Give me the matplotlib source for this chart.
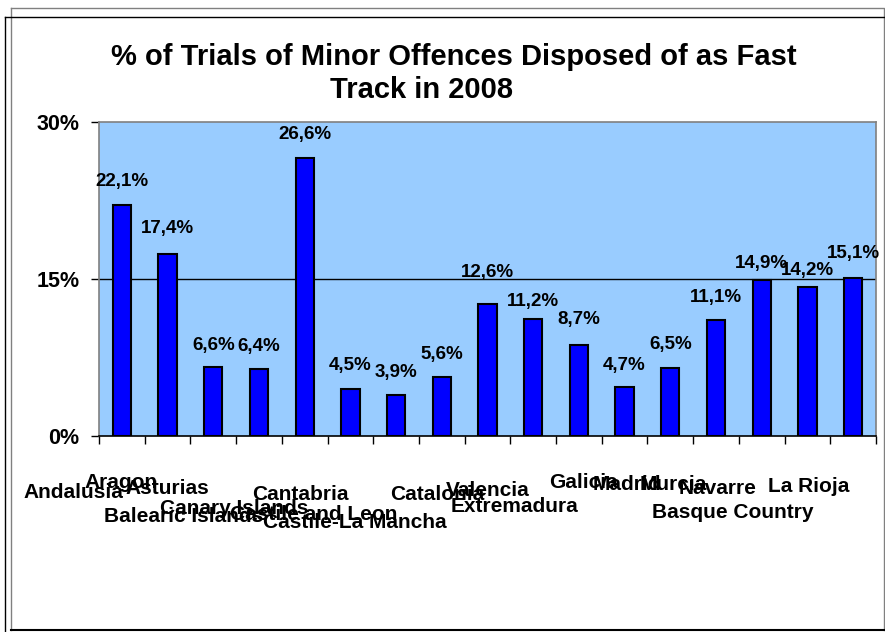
import matplotlib
matplotlib.use('Agg')
import matplotlib.pyplot as plt
from matplotlib.lines import Line2D

plt.rcParams['font.family'] = ['Liberation Sans', 'DejaVu Sans']
plt.rcParams['font.weight'] = 'bold'

regions = ['Andalusia', 'Aragon', 'Asturias', 'Balearic Islands', 'Canary Islands',
           'Cantabria', 'Castile and Leon', 'Castile-La Mancha', 'Catalonia',
           'Valencia', 'Extremadura', 'Galicia', 'Madrid', 'Murcia', 'Navarre',
           'Basque Country', 'La Rioja']
values = [22.1, 17.4, 6.6, 6.4, 26.6, 4.5, 3.9, 5.6, 12.6, 11.2, 8.7, 4.7, 6.5,
          11.1, 14.9, 14.2, 15.1]
yticks = [0, 15, 30]

# where the category names ended up (Excel shuffled them around)
name_x = [-1.07, -0.02, 1.0, 1.36, 2.45, 3.9, 4.2, 5.1, 6.9, 8.0, 8.6, 10.1,
          11.05, 12.06, 13.04, 13.37, 15.03]
name_drop = [57, 46, 53, 80, 73, 59, 78, 87, 58, 55, 71, 47, 48, 48, 53, 77, 51]
value_lift = [23, 25, 21, 23, 23, 23, 23, 23, 32, 17, 25, 21, 23, 22, 17, 17, 24]

W, H = 885, 632
fig = plt.figure(figsize=(W / 100, H / 100), dpi=100)
fig.patch.set_facecolor('white')


def fx(px):
    return px / W


def fy(py):
    return 1 - py / H


# outer frame
fig.add_artist(Line2D([fx(11), fx(884), fx(884)], [fy(8), fy(8), fy(630)],
                      color='#808080', lw=1))
fig.add_artist(Line2D([fx(11), fx(11)], [fy(8), fy(630)], color='#808080', lw=1))
fig.add_artist(Line2D([fx(5), fx(885)], [fy(17), fy(17)], color='black', lw=1))
fig.add_artist(Line2D([fx(5), fx(5)], [fy(17), fy(632)], color='black', lw=1))
fig.add_artist(Line2D([fx(11), fx(885)], [fy(630), fy(630)], color='black', lw=1.5))

ax = fig.add_axes([fx(99), fy(436), fx(876) - fx(99), fy(122) - fy(436)])
ax.set_facecolor('#99CCFF')

x = list(range(len(values)))
ax.bar(x, values, width=0.4, color='#0000FF', edgecolor='black', linewidth=1.5,
       zorder=3)
ax.axhline(15, color='black', lw=1, zorder=2)

ax.set_xlim(-0.5, len(values) - 0.5)
ax.set_ylim(0, 30)

for sp in ['left', 'top', 'right']:
    ax.spines[sp].set_color('#808080')
    ax.spines[sp].set_linewidth(1.2)
ax.spines['bottom'].set_color('black')
ax.spines['bottom'].set_linewidth(1.2)

ax.set_yticks(yticks)
ax.set_yticklabels([f'{t}%' for t in yticks], fontsize=15.5, fontweight='bold')
ax.tick_params(axis='y', direction='out', length=6, width=1, pad=8)
ax.set_xticks([i + 0.5 for i in range(-1, len(values))])
ax.set_xticklabels([])
ax.tick_params(axis='x', direction='out', length=6, width=1)

for xi, v, lift in zip(x, values, value_lift):
    ax.annotate(f'{v:.1f}%'.replace('.', ','), xy=(xi, v), xytext=(0, lift),
                textcoords='offset pixels', ha='center', va='center',
                fontsize=13.5, fontweight='bold', zorder=4)

for name, nx, drop in zip(regions, name_x, name_drop):
    ax.annotate(name, xy=(nx, 0), xytext=(0, -drop), textcoords='offset pixels',
                ha='center', va='center', fontsize=15, fontweight='bold',
                annotation_clip=False)

fig.text(fx(454), fy(57), '% of Trials of Minor Offences Disposed of as Fast',
         ha='center', va='center', fontsize=21, fontweight='bold')
fig.text(fx(421), fy(90), 'Track in 2008', ha='center', va='center',
         fontsize=21, fontweight='bold')

fig.savefig('out.png', dpi=100)
